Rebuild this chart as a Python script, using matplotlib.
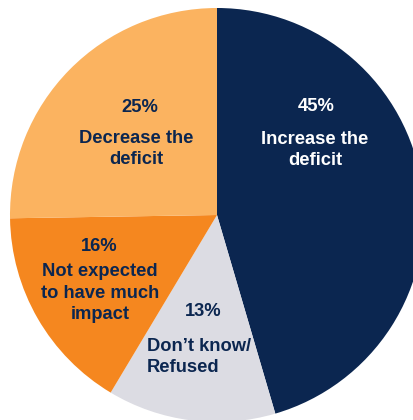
import matplotlib
matplotlib.use('Agg')
import matplotlib.pyplot as plt

# data
categories = ['Increase the\ndeficit', 'Don\u2019t know/\nRefused',
              'Not expected\nto have much\nimpact', 'Decrease the\ndeficit']
values = [45, 13, 16, 25]
colors = ['#0B2650', '#DCDCE3', '#F5871F', '#FBB360']
text_colors = ['white', '#0B2650', '#0B2650', '#0B2650']

# label spots, in pie radii from centre
pct_pos = [(0.478, 0.522), (-0.068, -0.464), (-0.570, -0.150), (-0.372, 0.517)]
lab_pos = [(0.473, 0.314), (-0.338, -0.686), (-0.565, -0.377), (-0.391, 0.319)]
lab_ha = ['center', 'left', 'center', 'center']

plt.rcParams['font.family'] = ['Liberation Sans', 'DejaVu Sans']
fs = 13.2

fig = plt.figure(figsize=(4.13, 4.20), dpi=100)
ax = fig.add_axes([0, 0, 1, 1])

ax.pie(values, colors=colors, startangle=90, counterclock=False,
       radius=1.0, wedgeprops=dict(linewidth=0))

# pie is cut off at the right and bottom edges
r_px = 207.0
cx, cy = 217.0, 215.0
ax.set_xlim(-cx / r_px, (413 - cx) / r_px)
ax.set_ylim(-(420 - cy) / r_px, cy / r_px)
ax.set_aspect('auto')
ax.axis('off')

for i in range(len(values)):
    px, py = pct_pos[i]
    ax.text(px, py, f'{values[i]}%', ha='center', va='center',
            fontsize=fs, fontweight='bold', color=text_colors[i])
    lx, ly = lab_pos[i]
    ax.text(lx, ly, categories[i], ha=lab_ha[i], va='center',
            fontsize=fs, fontweight='bold', color=text_colors[i],
            linespacing=1.32, multialignment=lab_ha[i])

plt.savefig('out.png', dpi=100)
